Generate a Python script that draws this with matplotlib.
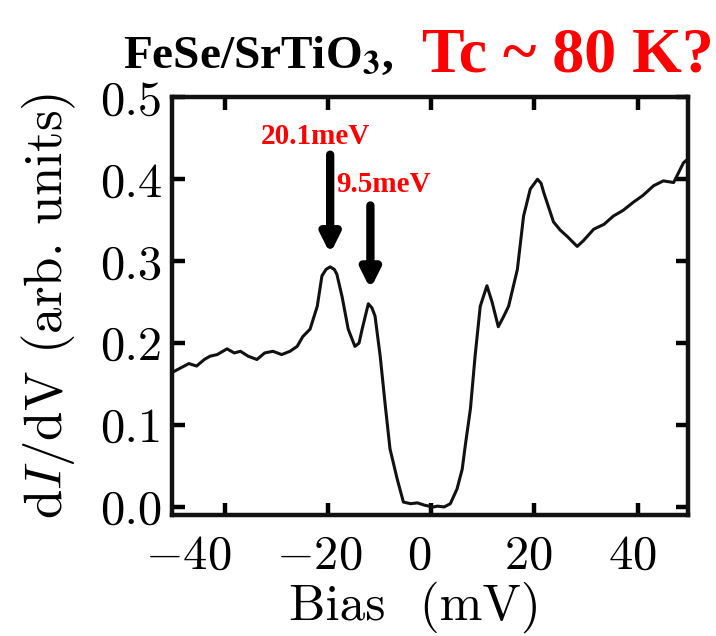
import matplotlib
matplotlib.use('Agg')
import matplotlib.pyplot as plt
from matplotlib.ticker import FormatStrFormatter
from matplotlib.transforms import ScaledTranslation

plt.rcParams['font.family'] = 'cmr10'
plt.rcParams['mathtext.fontset'] = 'cm'
plt.rcParams['axes.formatter.use_mathtext'] = True

# dI/dV spectrum
bias = [-50.0, -48.5, -47.0, -45.5, -44.0, -42.9, -41.5, -39.6, -38.2, -37.0, -35.5,
        -33.8, -32.3, -30.7, -29.0, -27.4, -26.0, -24.9, -23.5, -22.1, -21.2, -20.4,
        -19.6, -18.8, -18.3, -17.3, -16.1, -14.8, -14.0, -13.4, -12.2, -11.5, -10.9,
        -9.9, -8.9, -8.0, -6.6, -5.4, -4.0, -2.7, -1.2, 0.4, 1.2, 2.5, 3.7, 5.0, 6.0,
        6.6, 7.6, 8.5, 9.5, 10.8, 11.8, 13.0, 14.0, 15.0, 16.7, 17.9, 19.2, 20.6,
        21.3, 21.8, 23.7, 25.0, 26.4, 28.3, 29.5, 31.5, 33.5, 35.3, 37.2, 39.2,
        41.0, 43.1, 45.0, 47.0, 48.9, 49.8]
didv = [0.165, 0.170, 0.175, 0.172, 0.180, 0.184, 0.186, 0.193, 0.188, 0.190, 0.184,
        0.180, 0.188, 0.190, 0.186, 0.190, 0.196, 0.208, 0.217, 0.245, 0.282, 0.290,
        0.293, 0.290, 0.284, 0.257, 0.217, 0.196, 0.200, 0.217, 0.248, 0.243, 0.233,
        0.184, 0.123, 0.071, 0.034, 0.006, 0.004, 0.005, 0.002, 0.000, 0.001, 0.000,
        0.004, 0.022, 0.046, 0.075, 0.120, 0.184, 0.245, 0.270, 0.250, 0.220, 0.232,
        0.245, 0.290, 0.355, 0.388, 0.400, 0.395, 0.384, 0.348, 0.338, 0.330, 0.318,
        0.325, 0.339, 0.345, 0.355, 0.362, 0.372, 0.380, 0.392, 0.398, 0.396, 0.420, 0.425]

xticks = [-40, -20, 0, 20, 40]
yticks = [0.0, 0.1, 0.2, 0.3, 0.4, 0.5]
peak_bias = [-19.6, -11.8]
peak_labels = ['20.1meV', '9.5meV']

fig = plt.figure(figsize=(7.16, 6.36), dpi=100)
ax = fig.add_axes([0.240, 0.190, 0.721, 0.657])
ax.plot(bias, didv, color='#111111', lw=2.2)

ax.set_xlim(-50.3, 49.8)
ax.set_ylim(-0.01, 0.5)
ax.set_xticks(xticks)
ax.set_yticks(yticks)
ax.yaxis.set_major_formatter(FormatStrFormatter('%.1f'))
ax.tick_params(direction='in', length=9, width=3.2, labelsize=35, top=True, right=True)
ax.tick_params(axis='x', pad=14)
ax.tick_params(axis='y', pad=7)
for s in ax.spines.values():
    s.set_linewidth(3.2)
    s.set_color('#111111')

# the x tick labels sit a little left of their ticks in the original
shifts = [-37, -9, -12, -6, -5]
for lab, dx in zip(ax.get_xticklabels(), shifts):
    lab.set_transform(lab.get_transform() + ScaledTranslation(dx / 100, 0, fig.dpi_scale_trans))

ax.set_xlabel('Bias  (mV)', fontsize=37)
ax.xaxis.set_label_coords(0.471, -0.158)
ax.set_ylabel(r'$\mathrm{d}I/\mathrm{dV}$ (arb. units)', fontsize=38, labelpad=16)

# arrows marking the two coherence peaks
tips = [0.309, 0.266]
tails = [0.430, 0.368]
text_pos = [(-22.4, 0.452), (-9.2, 0.393)]
for x, tip, tail, lab, (tx, ty) in zip(peak_bias, tips, tails, peak_labels, text_pos):
    ax.annotate('', xy=(x, tip), xytext=(x, tail),
                arrowprops=dict(arrowstyle='-|>,head_width=0.55,head_length=1.1',
                                lw=6, color='black', shrinkA=0, shrinkB=0))
    ax.text(tx, ty, lab, color='red', fontsize=21, fontweight='bold',
            family='Liberation Serif', ha='center', va='center')

fig.text(0.172, 0.893, r'FeSe/SrTiO$_\mathbf{3}$,', color='black', fontsize=34,
         fontweight='bold', family='Liberation Serif', math_fontfamily='stix',
         ha='left', va='baseline')
fig.text(0.590, 0.888, 'Tc ~ 80 K?', color='red', fontsize=46,
         fontweight='bold', family='Liberation Serif', ha='left', va='baseline')

fig.savefig('out.png', dpi=100)
